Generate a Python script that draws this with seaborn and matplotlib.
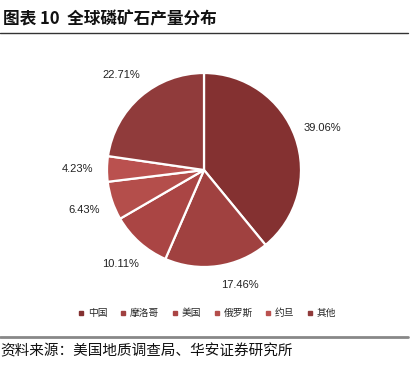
import matplotlib
matplotlib.use("Agg")
import matplotlib.pyplot as plt
import seaborn as sns
from matplotlib.lines import Line2D

categories = ["中国", "摩洛哥", "美国", "俄罗斯", "约旦", "其他"]
shares = [39.06, 17.46, 10.11, 6.43, 4.23, 22.71]
colors = ["#843131", "#A04140", "#AA4544", "#B44E4B", "#BA514F", "#903B3B"]

title = "图表 10  全球磷矿石产量分布"
source = "资料来源：美国地质调查局、华安证券研究所"

sns.set_theme(style="white")
plt.rcParams["font.family"] = ["Noto Sans CJK SC", "DejaVu Sans"]

W, H = 414, 370
fig = plt.figure(figsize=(W / 100, H / 100), dpi=100)
fig.patch.set_facecolor("white")

# pie axes: centre (204,170) px, radius 97 px
r = 97
cx, cy = 204, 170
ax = fig.add_axes([(cx - r) / W, (H - cy - r) / H, 2 * r / W, 2 * r / H])
wedges, texts, autotexts = ax.pie(
    shares, colors=colors, startangle=90, counterclock=False,
    autopct=lambda p: "", pctdistance=1.3, labeldistance=None,
    wedgeprops=dict(edgecolor="white", linewidth=1.6),
)
for t, v in zip(autotexts, shares):
    t.set_text(f"{v:.2f}%")
    t.set_fontsize(8)
    t.set_family(["Liberation Sans", "DejaVu Sans"])
    t.set_color("#222222")
# the second label sits a little closer to the pie (best-fit placement)
x1, y1 = autotexts[1].get_position()
autotexts[1].set_position((x1 * 0.92 + 0.2, y1 * 0.92))
ax.set_xlim(-1, 1)
ax.set_ylim(-1, 1)
ax.set_aspect("equal")
ax.axis("off")

handles = [Line2D([0], [0], marker="s", linestyle="none", markersize=2.5,
                  markerfacecolor=c, markeredgecolor=c) for c in colors]
fig.legend(handles, categories, loc="center", bbox_to_anchor=(207 / W, 1 - 313 / H),
           ncol=6, frameon=False, fontsize=7, handletextpad=0.3, columnspacing=1.2,
           handlelength=0.8)

fig.text(3 / W, 1 - 19 / H, title, fontsize=12, fontweight="bold", va="center", ha="left",
         color="#111111")
fig.add_artist(Line2D([0, 408 / W], [1 - 33 / H, 1 - 33 / H], color="#333333", linewidth=1.0))
fig.add_artist(Line2D([0, 408 / W], [1 - 337 / H, 1 - 337 / H], color="#888888", linewidth=2.0))
fig.text(0, 1 - 351 / H, source, fontsize=10.5, va="center", ha="left", color="#111111")

fig.savefig("out.png", dpi=100, facecolor="white")
